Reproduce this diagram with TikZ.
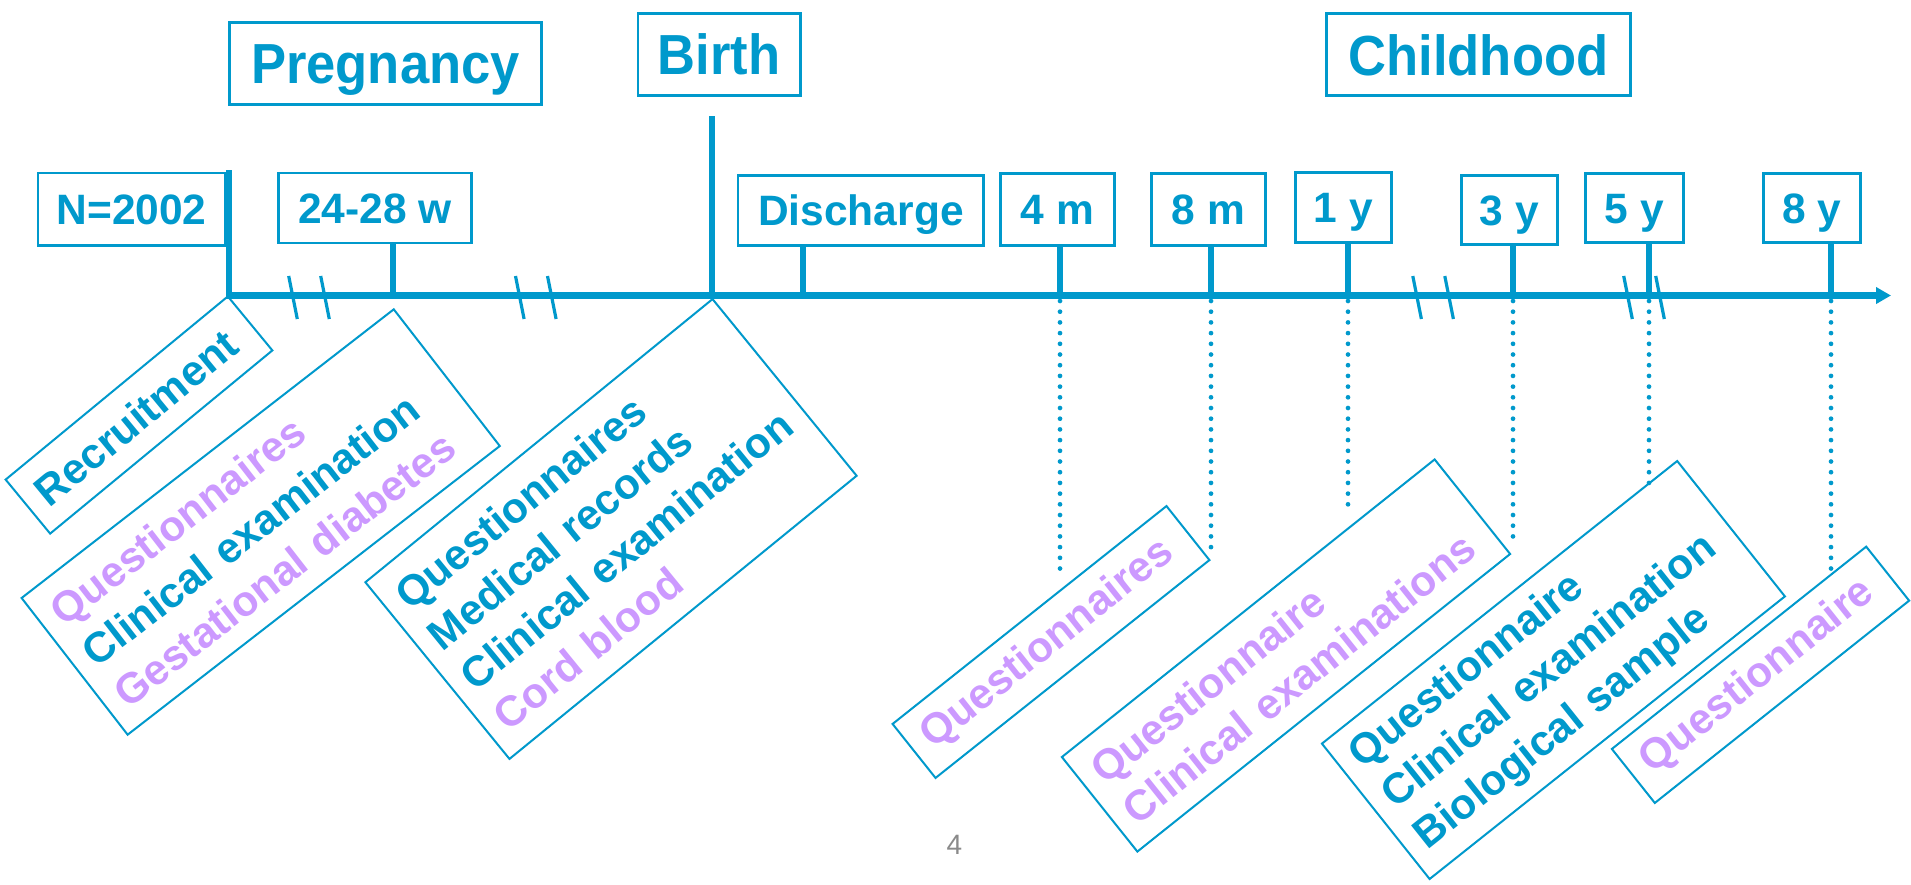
\documentclass[tikz,border=0pt]{standalone}
\usepackage{fontspec}
\setmainfont{Liberation Sans}
\newfontfamily\phasefont{Liberation Sans}[FakeStretch=0.93]
\usetikzlibrary{arrows.meta}
\definecolor{tlblue}{HTML}{0099CC}
\definecolor{tlviolet}{HTML}{CC99FF}
\definecolor{tlgray}{HTML}{8A8A8A}
% one line of an event box: violet or blue, never broken
\newcommand{\vl}[1]{\textcolor{tlviolet}{\mbox{#1}}}
\newcommand{\bl}[1]{\mbox{#1}}
\tikzset{
  phase/.style={draw=tlblue, line width=1.4pt, text=tlblue, inner sep=0pt,
    font=\phasefont\fontsize{28.25pt}{32pt}\selectfont\bfseries, text height=20.2pt, text depth=0pt,
    minimum height=41pt},
  stamp/.style={draw=tlblue, line width=1.35pt, text=tlblue, inner sep=0pt,
    font=\fontsize{21.25pt}{26pt}\selectfont\bfseries, text height=15.2pt, text depth=0pt},
  event/.style={draw=tlblue, line width=1pt, text=tlblue, inner xsep=8pt, inner ysep=0pt,
    align=left, font=\fontsize{21.25pt}{26pt}\selectfont\bfseries},
  axis/.style={draw=tlblue, line width=3.5pt, -{Triangle[length=7.5pt,width=8pt]}},
  bar/.style={draw=tlblue, line width=2.75pt},
  slash/.style={draw=tlblue, line width=1.6pt},
  dotline/.style={draw=tlblue, line width=2.35pt, line cap=round, dash pattern=on 0pt off 5.35pt},
  breakmark/.pic={
    \draw[slash] (-20.3,-21.5) -- (-11.7,21.5);
    \draw[slash] (11.7,-21.5) -- (20.3,21.5);
  }
}
\begin{document}
\begin{tikzpicture}[x=0.5pt,y=-0.5pt]
\fill[white] (0,0) rectangle (1911,884);
\useasboundingbox (0,0) rectangle (1911,884);

% phases
\node[phase, minimum width=156.2pt] (preg) at (385.5,63.5) {Pregnancy};
\node[phase, minimum width=81.2pt] (birth) at (719.2,54.7) {Birth};
\node[phase, minimum width=152.2pt] (child) at (1478.4,54.8) {Childhood};

% time stamps
\node[stamp, minimum width=93.7pt, minimum height=36.2pt] (n) at (131.6,209.2) {N=2002};
\node[stamp, minimum width=96.4pt, minimum height=35pt] (w) at (375.1,208) {24-28 w};
\node[stamp, minimum width=122.8pt, minimum height=35pt] (dis) at (860.9,210.3) {Discharge};
\node[stamp, minimum width=57.2pt, minimum height=36.2pt] (m4) at (1057.5,209.5) {4 m};
\node[stamp, minimum width=57.2pt, minimum height=36.2pt] (m8) at (1208.5,209.5) {8 m};
\node[stamp, minimum width=48.2pt, minimum height=35.2pt] (y1) at (1343.5,207.5) {1 y};
\node[stamp, minimum width=48.2pt, minimum height=34.7pt] (y3) at (1509.5,210) {3 y};
\node[stamp, minimum width=49.2pt, minimum height=34.7pt] (y5) at (1634.5,208) {5 y};
\node[stamp, minimum width=48.7pt, minimum height=34.7pt] (y8) at (1812,208) {8 y};

% points on the time axis
\coordinate (t0) at (229,295.5);
\coordinate (tend) at (1891,295.5);
\coordinate (top0) at (229,170);
\coordinate (pb) at (712,295.5);
\coordinate (topb) at (712,116);
\coordinate (pw) at (393,295.5);
\coordinate (pdis) at (803,295.5);
\coordinate (pm4) at (1060,295.5);
\coordinate (pm8) at (1211,295.5);
\coordinate (py1) at (1348,295.5);
\coordinate (py3) at (1513,295.5);
\coordinate (py5) at (1649,295.5);
\coordinate (py8) at (1831,295.5);

% ends of the dotted leaders
\coordinate (em4) at (1060,573);
\coordinate (em8) at (1211,557);
\coordinate (ey1) at (1348,514);
\coordinate (ey3) at (1513,547);
\coordinate (ey5) at (1649,487);
\coordinate (ey8) at (1831,572);

% vertical bars and ticks
\draw[bar] (top0) -- ([yshift=-1.75pt]t0);
\draw[bar] (topb) -- ([yshift=-1.5pt]pb);
\foreach \p/\b in {pw/w, pdis/dis, pm4/m4, pm8/m8, py1/y1, py3/y3, py5/y5, py8/y8}
  \draw[bar] (\p |- \b.south) -- (\p);

% time axis
\draw[axis] (t0) -- (tend);

% breaks in the time scale
\pic at (309,297.5) {breakmark};
\pic at (535.8,297.5) {breakmark};
\pic at (1433.1,297.5) {breakmark};
\pic at (1644,297.5) {breakmark};

% dotted leaders
\foreach \p/\e in {pm4/em4, pm8/em8, py1/ey1, py3/ey3, py5/ey5, py8/ey8}
  \draw[dotline] ([yshift=-2.75pt]\p) -- (\e);

% data collected at each stage
\node[event, rotate=39.5, text width=128pt, minimum height=35pt] (rec) at (139,415)
  {\bl{Recruitment}};
\node[event, rotate=37.8, text width=219.5pt, minimum height=86.5pt] (pq) at (260.7,522)
  {\vl{Questionnaires}\\\bl{Clinical examination}\\\vl{Gestational diabetes}};
\node[event, rotate=39.2, text width=208pt, minimum height=114pt] (bq) at (611,529)
  {\bl{Questionnaires}\\\bl{Medical records}\\\bl{Clinical examination}\\\vl{Cord blood}};
\node[event, rotate=38.5, text width=159pt, minimum height=34.5pt] (q4) at (1051,642)
  {\vl{Questionnaires}};
\node[event, rotate=38.6, text width=222.5pt, minimum height=60.5pt] (q8) at (1286,655.5)
  {\vl{Questionnaire}\\\vl{Clinical examinations}};
\node[event, rotate=38.5, text width=211pt, minimum height=86.5pt] (q35) at (1553.4,670)
  {\bl{Questionnaire}\\\bl{Clinical examination}\\\bl{Biological sample}};
\node[event, rotate=38.5, text width=146.5pt, minimum height=34.5pt] (q8y) at (1760.5,674.8)
  {\vl{Questionnaire}};

% page number
\node[text=tlgray, font=\fontsize{14pt}{16pt}\selectfont] (pg) at (954.5,845) {4};
\end{tikzpicture}
\end{document}
